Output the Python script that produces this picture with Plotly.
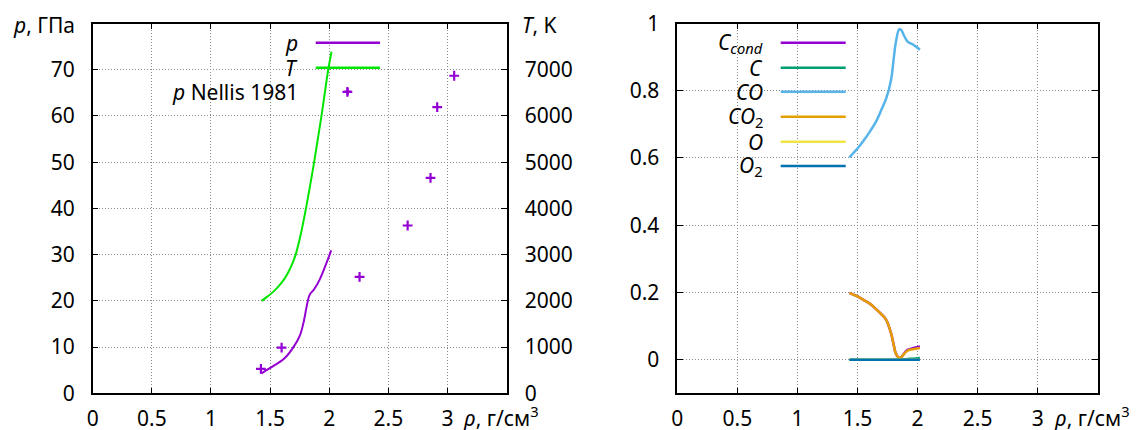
import plotly.graph_objects as go

W, H = 1142, 430
FONT = "Noto Sans"
FS = 21

# ---------------- left panel data ----------------
rho_p = [1.428, 1.528, 1.622, 1.70, 1.753, 1.784, 1.809, 1.834, 1.872, 1.919, 1.966, 2.016]
p_gpa = [4.33, 5.92, 7.59, 10.1, 12.6, 15.5, 18.8, 21.3, 22.5, 24.6, 27.5, 30.9]

rho_T = [1.428, 1.47, 1.528, 1.58, 1.622, 1.66, 1.69, 1.716, 1.76, 1.803, 1.872, 1.934, 1.991, 2.019]
T_K = [2000, 2080, 2200, 2340, 2480, 2650, 2820, 3000, 3450, 4000, 5000, 6000, 7000, 7390]

rho_nellis = [1.422, 1.597, 2.153, 2.256, 2.6625, 2.856, 2.9125, 3.056]
p_nellis = [5.27, 9.9, 65.2, 25.2, 36.3, 46.6, 61.9, 68.7]

# ---------------- right panel data ----------------
rho_sp = [1.433, 1.50, 1.55, 1.606, 1.65, 1.70, 1.74, 1.78, 1.80, 1.82, 1.848, 1.865, 1.89, 1.917, 1.96, 2.02]
x_Ccond = [0.199, 0.188, 0.178, 0.166, 0.152, 0.135, 0.118, 0.078, 0.047, 0.018, 0.005, 0.008, 0.019, 0.029, 0.034, 0.039]
x_C = [0, 0, 0, 0, 0, 0, 0, 0, 0, 0, 0, 0.001, 0.001, 0.002, 0.003, 0.005]
x_CO = [0.602, 0.628, 0.651, 0.680, 0.705, 0.744, 0.778, 0.833, 0.890, 0.945, 0.983, 0.980, 0.962, 0.946, 0.938, 0.922]
x_CO2 = [0.199, 0.188, 0.178, 0.166, 0.152, 0.135, 0.118, 0.078, 0.047, 0.018, 0.005, 0.008, 0.018, 0.027, 0.031, 0.035]
x_O = [0] * len(rho_sp)
x_O2 = [0] * len(rho_sp)

species = [
    ("<i>C<sub>cond</sub></i>", x_Ccond, "#9400d3"),
    ("<i>C</i>", x_C, "#009e73"),
    ("<i>CO</i>", x_CO, "#56b4e9"),
    ("<i>CO</i><sub>2</sub>", x_CO2, "#e69f00"),
    ("<i>O</i>", x_O, "#f0e442"),
    ("<i>O</i><sub>2</sub>", x_O2, "#0072b2"),
]

x_ticks = [0, 0.5, 1, 1.5, 2, 2.5, 3]
x_ticktext = ["0", "0.5", "1", "1.5", "2", "2.5", "3"]
p_ticks = [0, 10, 20, 30, 40, 50, 60, 70]
T_ticks = [0, 1000, 2000, 3000, 4000, 5000, 6000, 7000]
frac_ticks = [0, 0.2, 0.4, 0.6, 0.8, 1]
frac_ticktext = ["0", "0.2", "0.4", "0.6", "0.8", "1"]

PURPLE = "#9400d3"
GREEN = "#00e600"


def px(x):
    return x / W


def py(y):
    return 1 - y / H


fig = go.Figure()

fig.add_trace(go.Scatter(x=rho_p, y=p_gpa, mode="lines", line=dict(color=PURPLE, width=2, shape="spline"),
                         name="p", xaxis="x", yaxis="y"))
fig.add_trace(go.Scatter(x=rho_T, y=T_K, mode="lines", line=dict(color=GREEN, width=2, shape="spline"),
                         name="T", xaxis="x", yaxis="y2"))
fig.add_trace(go.Scatter(x=rho_nellis, y=p_nellis, mode="markers",
                         marker=dict(symbol="cross-thin", size=7, line=dict(color=PURPLE, width=2.2)),
                         name="p Nellis 1981", xaxis="x", yaxis="y"))

for name, vals, col in species:
    fig.add_trace(go.Scatter(x=rho_sp, y=vals, mode="lines", line=dict(color=col, width=2.5, shape="spline"),
                             name=name, xaxis="x2", yaxis="y3"))

GRID = dict(showgrid=True, gridcolor="#8a8a8a", griddash="1px,2px", gridwidth=1)
axis_common = dict(showline=True, linecolor="black", linewidth=1.5, ticks="inside", ticklen=6,
                   tickwidth=1.2, tickcolor="black", zeroline=False, automargin=False,
                   tickfont=dict(family=FONT, size=FS, color="black"))

ydom = [py(393.3), py(23.5)]
fig.update_layout(
    template="none",
    width=W, height=H, margin=dict(l=0, r=0, t=0, b=0, pad=0, autoexpand=False),
    paper_bgcolor="white", plot_bgcolor="white", showlegend=False,
    font=dict(family=FONT, size=FS, color="black"),
    xaxis=dict(domain=[px(92.7), px(506.7)], range=[0, 3.5], tickvals=x_ticks, ticktext=x_ticktext,
               mirror="ticks", anchor="y", ticklabelstandoff=6, **GRID, **axis_common),
    yaxis=dict(domain=ydom, range=[0, 80], tickvals=p_ticks, mirror=True, anchor="x",
               ticklabelstandoff=12, **GRID, **axis_common),
    yaxis2=dict(overlaying="y", side="right", range=[0, 8000], tickvals=T_ticks, anchor="x",
                showgrid=False, ticklabelstandoff=12, **axis_common),
    xaxis2=dict(domain=[px(677.3), px(1097.7)], range=[0, 3.5], tickvals=x_ticks, ticktext=x_ticktext,
                mirror="ticks", anchor="y3", ticklabelstandoff=6, **GRID, **axis_common),
    yaxis3=dict(domain=ydom, range=[-0.1, 1], tickvals=frac_ticks, ticktext=frac_ticktext,
                mirror="ticks", anchor="x2", ticklabelstandoff=12, **GRID, **axis_common),
)

shapes = []
# opaque legend boxes (hide grid behind keys)
shapes.append(dict(type="rect", xref="paper", yref="paper", x0=px(108), x1=px(395), y0=py(106), y1=py(24.5),
                   fillcolor="white", line=dict(width=0), layer="between"))
shapes.append(dict(type="rect", xref="paper", yref="paper", x0=px(690), x1=px(862), y0=py(180), y1=py(24.5),
                   fillcolor="white", line=dict(width=0), layer="between"))

ann = []
# left legend
left_keys = [("<i>p</i>", PURPLE, 42.7), ("<i>T</i>", GREEN, 67.7)]
for txt, col, yy in left_keys:
    ann.append(dict(text=txt, x=px(300), y=py(yy), xref="paper", yref="paper", xanchor="right",
                    yanchor="middle", showarrow=False))
    shapes.append(dict(type="line", xref="paper", yref="paper", x0=px(315.7), x1=px(380), y0=py(yy), y1=py(yy),
                       line=dict(color=col, width=2.5), layer="above"))
ann.append(dict(text="<i>p</i> Nellis 1981", x=px(300), y=py(91.7), xref="paper", yref="paper",
                xanchor="right", yanchor="middle", showarrow=False))
shapes.append(dict(type="line", xref="paper", yref="paper", x0=px(344.2), x1=px(351.2), y0=py(91.7), y1=py(91.7),
                   line=dict(color=PURPLE, width=2.2), layer="above"))
shapes.append(dict(type="line", xref="paper", yref="paper", x0=px(347.7), x1=px(347.7), y0=py(88.2), y1=py(95.2),
                   line=dict(color=PURPLE, width=2.2), layer="above"))

# right legend
right_ys = [42.7, 67.7, 91.7, 116.7, 141.7, 166]
for (name, _, col), yy in zip(species, right_ys):
    ann.append(dict(text=name, x=px(765), y=py(yy), xref="paper", yref="paper", xanchor="right",
                    yanchor="middle", showarrow=False))
    shapes.append(dict(type="line", xref="paper", yref="paper", x0=px(780.7), x1=px(845.7), y0=py(yy), y1=py(yy),
                       line=dict(color=col, width=2.5), layer="above"))

# axis titles
ann.append(dict(text="<i>p</i>, ГПа", x=px(77), y=py(25), xref="paper", yref="paper", xanchor="right",
                yanchor="middle", showarrow=False))
ann.append(dict(text="<i>T</i>, K", x=px(520), y=py(25), xref="paper", yref="paper", xanchor="left",
                yanchor="middle", showarrow=False))
ann.append(dict(text="<i>ρ</i>, г/см<sup>3</sup>", x=px(461), y=py(416), xref="paper", yref="paper",
                xanchor="left", yanchor="middle", showarrow=False))
ann.append(dict(text="<i>ρ</i>, г/см<sup>3</sup>", x=px(1052), y=py(416), xref="paper", yref="paper",
                xanchor="left", yanchor="middle", showarrow=False))

fig.update_layout(shapes=shapes, annotations=ann)
fig.write_html("out.html", config={"displayModeBar": False},
               post_script="document.body.style.margin='0';document.body.style.overflow='hidden';")
